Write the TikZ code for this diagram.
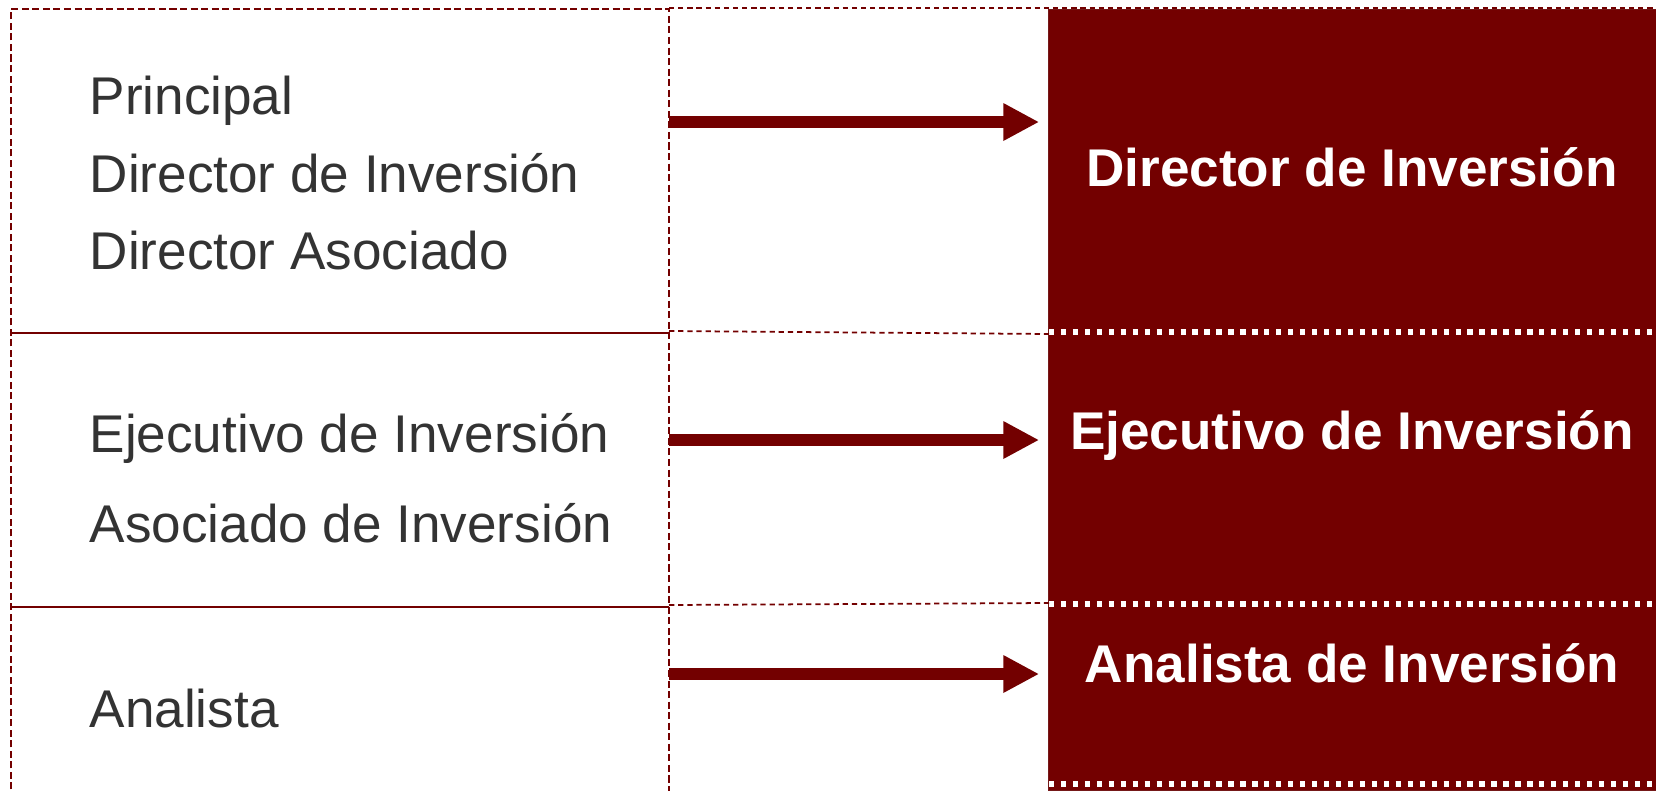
\documentclass[tikz,border=0pt]{standalone}
\usepackage{fontspec}
\setmainfont{Liberation Sans}
\usetikzlibrary{arrows.meta}

\definecolor{granate}{RGB}{115,0,0}
\definecolor{texto}{RGB}{51,51,51}

\tikzset{
  outline/.style={granate, line width=0.8pt, dash pattern=on 2pt off 1pt},
  guide/.style={granate, line width=0.5pt, dash pattern=on 1.5pt off 1.1pt},
  divider/.style={granate, line width=0.7pt},
  whitedots/.style={white, line width=1.5pt, dash pattern=on 1.5pt off 1.9pt},
  arr/.style={granate, line width=3.4pt, -{Triangle[length=10.2pt, width=10pt]}, shorten >=2.6pt},
  rolename/.style={texto, anchor=base west, inner sep=0pt, font=\fontsize{15.1}{18}\selectfont},
  boxname/.style={white, anchor=base, inner sep=0pt, font=\fontsize{15.1}{18}\selectfont\bfseries},
  redbox/.style={fill=granate, draw=granate!80!gray, line width=0.3pt, inner sep=0pt,
                 minimum width=6.07cm, minimum height=7.80cm}
}

\begin{document}
\begin{tikzpicture}[x=0.01cm, y=-0.01cm]

\useasboundingbox (0,0) rectangle (1656,790);

% right column
\node[redbox] (rbox) at (1352.5,400) {};
\draw[whitedots] (1049,332) -- (1656,332);
\draw[whitedots] (1049,604) -- (1656,604);
\draw[whitedots] (1049,784) -- (1656,784);

% left column
\draw[outline] (11,800) -- (11,9) -- (669,9) -- (669,800);
\draw[guide] (669,8) -- (1656,8);
\draw[divider] (11,333) -- (669,333);
\draw[divider] (11,607) -- (669,607);
\draw[guide] (669,331) -- (1049,334);
\draw[guide] (669,605) -- (1049,603);

\node[rolename] (p1) at (89,114) {Principal};
\node[rolename] (p2) at (89,192) {Director de Inversión};
\node[rolename] (p3) at (89,269) {Director Asociado};
\node[rolename] (e1) at (89,452) {Ejecutivo de Inversión};
\node[rolename] (e2) at (89,542) {Asociado de Inversión};
\node[rolename] (a1) at (89,727) {Analista};

\node[boxname] (b1) at (1352,186) {Director de Inversión};
\node[boxname] (b2) at (1352,449) {Ejecutivo de Inversión};
\node[boxname] (b3) at (1352,682) {Analista de Inversión};

% arrows
\coordinate (s1) at (669,122);
\coordinate (s2) at (669,440);
\coordinate (s3) at (669,674);
\draw[arr] (s1) -- (s1 -| rbox.west);
\draw[arr] (s2) -- (s2 -| rbox.west);
\draw[arr] (s3) -- (s3 -| rbox.west);

\end{tikzpicture}
\end{document}
